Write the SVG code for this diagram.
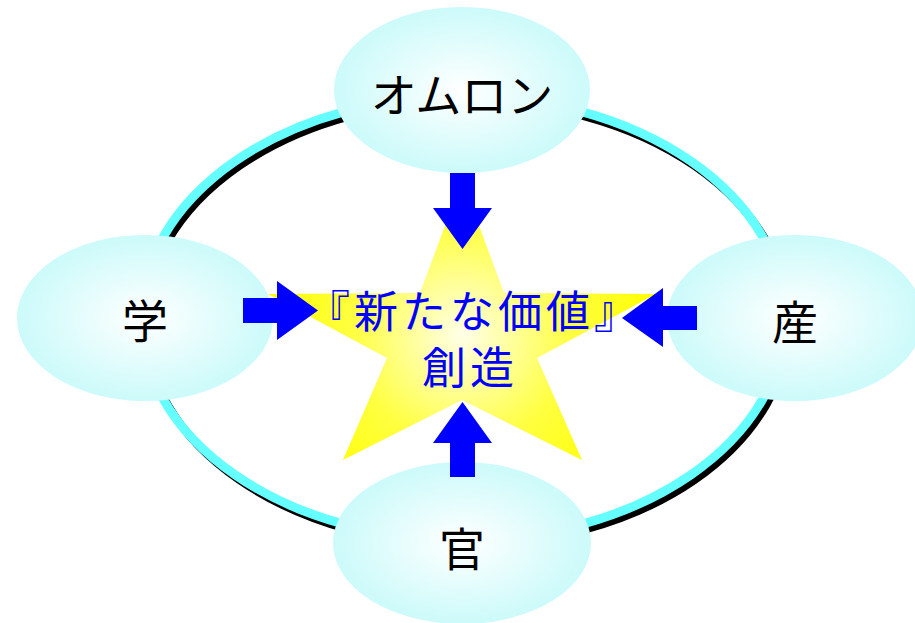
<svg xmlns="http://www.w3.org/2000/svg" width="915" height="623" viewBox="0 0 915 623">
<defs>
<radialGradient id="gEll" cx="50%" cy="50%" r="50%">
<stop offset="0" stop-color="#FFFFFF"/>
<stop offset="1" stop-color="#CCFAFA"/>
</radialGradient>
<radialGradient id="gStar" gradientUnits="userSpaceOnUse" cx="462" cy="335" r="200">
<stop offset="0" stop-color="#FFFFE8"/>
<stop offset="0.55" stop-color="#FFFF40"/>
<stop offset="1" stop-color="#FFFF00"/>
</radialGradient>
<style>
.ell{fill:url(#gEll);}
.lbl{font-family:"Noto Sans CJK JP","Noto Sans CJK SC",sans-serif;font-size:46px;fill:#000;text-anchor:middle;}
.ctr{font-family:"Noto Sans CJK JP","Noto Sans CJK SC",sans-serif;font-size:44px;fill:#0000FF;text-anchor:middle;letter-spacing:4px;}
.arr{fill:#0000FF;}
</style>
</defs>
<rect width="915" height="623" fill="#FFFFFF"/>
<g id="ring">
<ellipse cx="467" cy="323" rx="322" ry="222" fill="none" stroke="#000000" stroke-width="8"/>
<ellipse cx="463" cy="318" rx="322" ry="222" fill="none" stroke="#66FFFF" stroke-width="9"/>
</g>
<g id="star">
<polygon points="462,180 504,293 656,294 537,358 582,460 462,400 343,460 387,358 268,294 420,293" fill="url(#gStar)"/>
</g>
<g id="node-omron">
<ellipse class="ell" cx="462" cy="90" rx="128" ry="83"/>
<text class="lbl" x="462" y="112">オムロン</text>
</g>
<g id="node-gaku">
<ellipse class="ell" cx="145" cy="318" rx="128" ry="83"/>
<text class="lbl" x="145" y="338">学</text>
</g>
<g id="node-san">
<ellipse class="ell" cx="795" cy="318" rx="128" ry="83"/>
<text class="lbl" x="795" y="339">産</text>
</g>
<g id="node-kan">
<ellipse class="ell" cx="462" cy="543" rx="129" ry="81"/>
<text class="lbl" x="462" y="566">官</text>
</g>
<g id="connectors">
<polygon class="arr" points="450,173 475,173 475,208 492,208 462.5,249 433,208 450,208"/>
<polygon class="arr" points="450,477 475,477 475,443 492,443 462.5,402 433,443 450,443"/>
<polygon class="arr" points="243,298 277,298 277,281 318,310.5 277,340 277,323 243,323"/>
<polygon class="arr" points="697,306 663,306 663,288 622,318 663,347 663,330 697,330"/>
</g>
<g id="center-label">
<text class="ctr"><tspan x="474" y="328">『新たな価値』</tspan><tspan x="470" y="384">創造</tspan></text>
</g>
</svg>
